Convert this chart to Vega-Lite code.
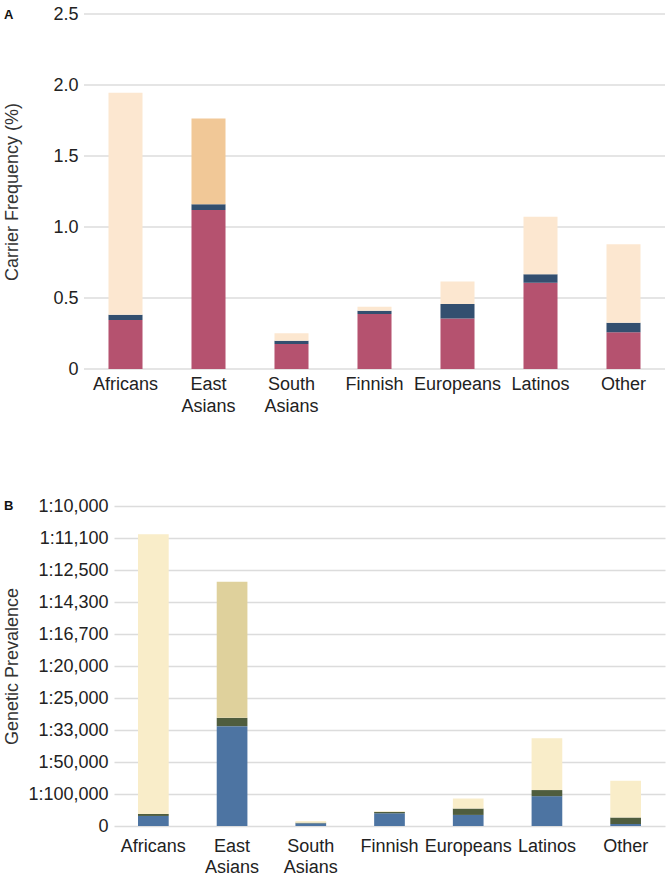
{
  "$schema": "https://vega.github.io/schema/vega-lite/v6.json",
  "padding": {"left": 3, "top": 5, "right": 2, "bottom": 0},
  "background": "white",
  "config": {
    "view": {"stroke": null},
    "font": "Liberation Sans",
    "axis": {
      "labelFont": "Liberation Sans",
      "titleFont": "Liberation Sans",
      "labelFontSize": 18,
      "titleFontSize": 18,
      "titleFontWeight": "normal",
      "labelColor": "#222222",
      "titleColor": "#333333",
      "gridColor": "#dcdcdc",
      "gridWidth": 1.5,
      "domain": false,
      "ticks": false
    },
    "title": {"font": "Liberation Sans", "fontSize": 13, "fontWeight": "bold", "color": "#111111"}
  },
  "datasets": {
    "a": [
      {"region": "Africans", "tier": "A1", "rank": 1, "value": 0.345},
      {"region": "Africans", "tier": "A2", "rank": 2, "value": 0.037},
      {"region": "Africans", "tier": "A3", "rank": 3, "value": 1.564},
      {"region": "East Asians", "tier": "A1", "rank": 1, "value": 1.119},
      {"region": "East Asians", "tier": "A2", "rank": 2, "value": 0.042},
      {"region": "East Asians", "tier": "A4", "rank": 3, "value": 0.603},
      {"region": "South Asians", "tier": "A1", "rank": 1, "value": 0.176},
      {"region": "South Asians", "tier": "A2", "rank": 2, "value": 0.023},
      {"region": "South Asians", "tier": "A3", "rank": 3, "value": 0.052},
      {"region": "Finnish", "tier": "A1", "rank": 1, "value": 0.387},
      {"region": "Finnish", "tier": "A2", "rank": 2, "value": 0.023},
      {"region": "Finnish", "tier": "A3", "rank": 3, "value": 0.029},
      {"region": "Europeans", "tier": "A1", "rank": 1, "value": 0.356},
      {"region": "Europeans", "tier": "A2", "rank": 2, "value": 0.101},
      {"region": "Europeans", "tier": "A3", "rank": 3, "value": 0.16},
      {"region": "Latinos", "tier": "A1", "rank": 1, "value": 0.607},
      {"region": "Latinos", "tier": "A2", "rank": 2, "value": 0.061},
      {"region": "Latinos", "tier": "A3", "rank": 3, "value": 0.404},
      {"region": "Other", "tier": "A1", "rank": 1, "value": 0.258},
      {"region": "Other", "tier": "A2", "rank": 2, "value": 0.068},
      {"region": "Other", "tier": "A3", "rank": 3, "value": 0.553}
    ],
    "agrid": [
      {"value": 0}, {"value": 0.5}, {"value": 1}, {"value": 1.5}, {"value": 2}, {"value": 2.5}
    ],
    "b": [
      {"region": "Africans", "tier": "B1", "rank": 1, "value": 0.314},
      {"region": "Africans", "tier": "B2", "rank": 2, "value": 0.063},
      {"region": "Africans", "tier": "B3", "rank": 3, "value": 8.74},
      {"region": "East Asians", "tier": "B1", "rank": 1, "value": 3.12},
      {"region": "East Asians", "tier": "B2", "rank": 2, "value": 0.26},
      {"region": "East Asians", "tier": "B4", "rank": 3, "value": 4.25},
      {"region": "South Asians", "tier": "B1", "rank": 1, "value": 0.084},
      {"region": "South Asians", "tier": "B2", "rank": 2, "value": 0.02},
      {"region": "South Asians", "tier": "B3", "rank": 3, "value": 0.05},
      {"region": "Finnish", "tier": "B1", "rank": 1, "value": 0.398},
      {"region": "Finnish", "tier": "B2", "rank": 2, "value": 0.042},
      {"region": "Finnish", "tier": "B3", "rank": 3, "value": 0.02},
      {"region": "Europeans", "tier": "B1", "rank": 1, "value": 0.346},
      {"region": "Europeans", "tier": "B2", "rank": 2, "value": 0.2},
      {"region": "Europeans", "tier": "B3", "rank": 3, "value": 0.313},
      {"region": "Latinos", "tier": "B1", "rank": 1, "value": 0.932},
      {"region": "Latinos", "tier": "B2", "rank": 2, "value": 0.19},
      {"region": "Latinos", "tier": "B3", "rank": 3, "value": 1.62},
      {"region": "Other", "tier": "B1", "rank": 1, "value": 0.063},
      {"region": "Other", "tier": "B2", "rank": 2, "value": 0.2},
      {"region": "Other", "tier": "B3", "rank": 3, "value": 1.15}
    ]
  },
  "vconcat": [
    {
      "title": {"text": "A", "anchor": "start", "frame": "bounds", "offset": -17},
      "width": 551,
      "height": 355,
      "resolve": {"scale": {"x": "independent"}},
      "layer": [
        {
          "data": {"name": "agrid"},
          "mark": {"type": "rule", "color": "#dcdcdc", "strokeWidth": 1.5},
          "encoding": {
            "x": {"datum": 0, "type": "quantitative", "scale": {"domain": [0, 1], "rangeMin": -30, "padding": 0, "nice": false}, "axis": null},
            "x2": {"datum": 1},
            "y": {
              "field": "value", "type": "quantitative",
              "scale": {"domain": [0, 2.5], "padding": 0, "nice": false},
              "axis": {"title": "Carrier Frequency (%)", "grid": false, "values": [0, 0.5, 1, 1.5, 2, 2.5], "labelExpr": "datum.value == 0 ? '0' : format(datum.value, '.1f')", "labelPadding": 36, "titlePadding": 31}
            }
          }
        },
        {
          "data": {"name": "a"},
          "mark": {"type": "bar"},
          "encoding": {
            "x": {
              "field": "region", "type": "nominal",
              "sort": ["Africans", "East Asians", "South Asians", "Finnish", "Europeans", "Latinos", "Other"],
              "scale": {"paddingInner": 0.59, "rangeMin": -30},
              "axis": {"title": null, "labelAngle": 0, "labelExpr": "split(datum.label, ' ')", "labelLineHeight": 22, "labelPadding": 6, "grid": false}
            },
            "y": {
              "field": "value", "type": "quantitative", "stack": "zero",
              "axis": {"title": "Carrier Frequency (%)", "grid": false, "values": [0, 0.5, 1, 1.5, 2, 2.5], "labelExpr": "datum.value == 0 ? '0' : format(datum.value, '.1f')", "labelPadding": 36, "titlePadding": 31}
            },
            "color": {
              "field": "tier", "type": "nominal", "legend": null,
              "scale": {"domain": ["A1", "A2", "A3", "A4"], "range": ["#b5526f", "#334f6f", "#fce7d0", "#f1c897"]}
            },
            "order": {"field": "rank", "type": "quantitative"}
          }
        }
      ]
    },
    {
      "title": {"text": "B", "anchor": "start", "frame": "bounds", "offset": -16},
      "width": 551,
      "height": 320,
      "data": {"name": "b"},
      "mark": {"type": "bar"},
      "encoding": {
        "x": {
          "field": "region", "type": "nominal",
          "sort": ["Africans", "East Asians", "South Asians", "Finnish", "Europeans", "Latinos", "Other"],
          "scale": {"paddingInner": 0.61},
          "axis": {"title": null, "labelAngle": 0, "labelExpr": "split(datum.label, ' ')", "labelLineHeight": 21, "labelPadding": 11, "grid": false}
        },
        "y": {
          "field": "value", "type": "quantitative", "stack": "zero",
          "scale": {"domain": [0, 10], "nice": false},
          "axis": {"title": "Genetic Prevalence", "values": [0, 1, 2, 3, 4, 5, 6, 7, 8, 9, 10], "labelExpr": "['0','1:100,000','1:50,000','1:33,000','1:25,000','1:20,000','1:16,700','1:14,300','1:12,500','1:11,100','1:10,000'][datum.value]", "labelPadding": 6, "titlePadding": 6}
        },
        "color": {
          "field": "tier", "type": "nominal", "legend": null,
          "scale": {"domain": ["B1", "B2", "B3", "B4"], "range": ["#4d74a2", "#4f5d3e", "#f9edc9", "#dfd19c"]}
        },
        "order": {"field": "rank", "type": "quantitative"}
      }
    }
  ],
  "spacing": 82,
  "resolve": {"scale": {"color": "independent", "x": "independent", "y": "independent"}}
}
